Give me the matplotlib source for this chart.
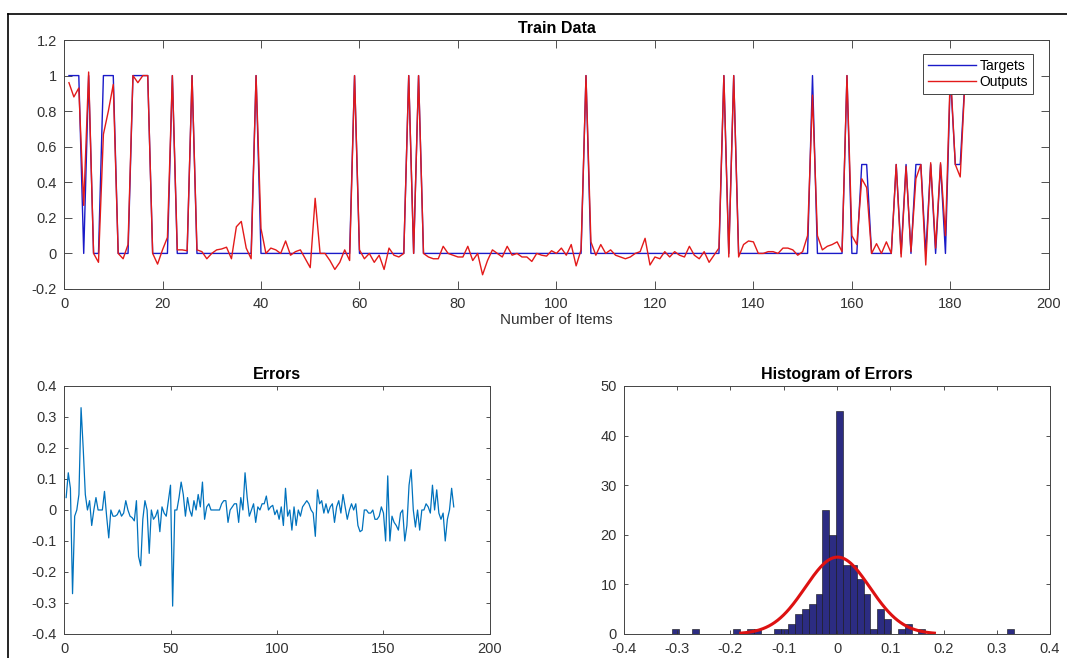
import numpy as np
import matplotlib
matplotlib.use("Agg")
import matplotlib.pyplot as plt
from matplotlib.lines import Line2D

plt.rcParams['font.family'] = ['Liberation Sans', 'DejaVu Sans']
plt.rcParams['font.size'] = 10

# --- data (183 training items) ---
targets = [
    1, 1, 1, 0, 1, 0, 0, 1, 1, 1,
    0, 0, 0, 1, 1, 1, 1, 0, 0, 0,
    0, 1, 0, 0, 0, 1, 0, 0, 0, 0,
    0, 0, 0, 0, 0, 0, 0, 0, 1, 0,
    0, 0, 0, 0, 0, 0, 0, 0, 0, 0,
    0, 0, 0, 0, 0, 0, 0, 0, 1, 0,
    0, 0, 0, 0, 0, 0, 0, 0, 0, 1,
    0, 1, 0, 0, 0, 0, 0, 0, 0, 0,
    0, 0, 0, 0, 0, 0, 0, 0, 0, 0,
    0, 0, 0, 0, 0, 0, 0, 0, 0, 0,
    0, 0, 0, 0, 0, 1, 0, 0, 0, 0,
    0, 0, 0, 0, 0, 0, 0, 0, 0, 0,
    0, 0, 0, 0, 0, 0, 0, 0, 0, 0,
    0, 0, 0, 1, 0, 1, 0, 0, 0, 0,
    0, 0, 0, 0, 0, 0, 0, 0, 0, 0,
    0, 1, 0, 0, 0, 0, 0, 0, 1, 0,
    0, 0.5, 0.5, 0, 0, 0, 0, 0, 0.5, 0,
    0.5, 0, 0.5, 0.5, 0, 0.5, 0, 0.5, 0, 1,
    0.5, 0.5, 1,
]
outputs = [
    0.96, 0.88, 0.93, 0.27, 1.02, 0.0, -0.05, 0.67, 0.80, 0.95,
    0.0, -0.03, 0.05, 1.0, 0.96, 1.0, 1.0, 0.0, -0.06, 0.02,
    0.09, 1.0, 0.02, 0.02, 0.015, 1.0, 0.02, 0.01, -0.03, 0.0,
    0.02, 0.025, 0.035, -0.03, 0.15, 0.18, 0.03, -0.03, 1.0, 0.14,
    0.0, 0.03, 0.02, 0.0, 0.07, -0.01, 0.01, 0.02, -0.03, -0.08,
    0.31, 0.0, 0.0, -0.04, -0.09, -0.05, 0.02, -0.04, 1.0, 0.02,
    -0.03, 0.0, -0.05, -0.01, -0.09, 0.03, -0.01, -0.02, 0.0, 1.0,
    0.0, 1.0, 0.0, -0.02, -0.03, -0.03, 0.04, 0.0, -0.01, -0.02,
    -0.02, 0.04, -0.04, 0.0, -0.12, -0.04, 0.02, 0.0, -0.02, 0.04,
    -0.01, 0.0, -0.02, -0.02, -0.045, 0.0, -0.01, -0.015, 0.015, 0.0,
    0.03, -0.01, 0.05, -0.07, 0.02, 1.0, 0.065, -0.01, 0.05, 0.0,
    0.02, -0.01, -0.02, -0.03, -0.02, 0.0, 0.01, 0.085, -0.065, -0.02,
    -0.03, 0.01, -0.02, 0.01, -0.01, -0.02, 0.04, -0.01, -0.03, 0.01,
    -0.05, -0.01, 0.03, 1.0, -0.02, 1.0, -0.02, 0.05, 0.07, 0.065,
    0.0, 0.0, 0.01, 0.01, 0.0, 0.03, 0.03, 0.02, -0.01, 0.01,
    0.10, 0.89, 0.10, 0.02, 0.04, 0.05, 0.065, 0.01, 1.0, 0.10,
    0.05, 0.42, 0.37, 0.0, 0.055, 0.0, 0.065, 0.0, 0.50, -0.02,
    0.49, 0.01, 0.42, 0.50, -0.065, 0.51, 0.03, 0.51, 0.10, 1.03,
    0.50, 0.43, 0.99,
]

# histogram of errors: 50 bins over the error range
hist_min, hist_max = -0.3105, 0.333
hist_counts = [
    1, 0, 0, 1, 0, 0, 0, 0, 0, 1,
    0, 1, 1, 0, 0, 1, 1, 2, 4, 5,
    6, 8, 25, 20, 45, 14, 14, 11, 8, 1,
    5, 3, 0, 1, 2, 0, 1, 0, 0, 0,
    0, 0, 0, 0, 0, 0, 0, 0, 0, 1,
]

items = np.arange(1, len(targets) + 1)
targets = np.array(targets, dtype=float)
outputs = np.array(outputs, dtype=float)
errors = targets - outputs

TXT = '#333333'
NAVY = '#2c2c82'


def style_axes(ax, ticklen):
    ax.tick_params(direction='in', top=True, right=True, length=ticklen,
                   width=0.6, colors=TXT, labelsize=10.5)
    ax.tick_params(axis='x', pad=6)
    ax.tick_params(axis='y', pad=5)
    for sp in ax.spines.values():
        sp.set_color('#444444')
        sp.set_linewidth(0.7)


fig = plt.figure(figsize=(10.67, 6.58), dpi=100)

# --- Train Data ---
ax1 = fig.add_axes([0.060, 0.5608, 0.923, 0.3784])
ax1.plot(items, targets, color='#1a1ac8', lw=1.0, label='Targets')
ax1.plot(items, outputs, color='#e31a1a', lw=1.0, label='Outputs')
ax1.set_xlim(0, 200)
ax1.set_ylim(-0.2, 1.2)
ax1.set_xticks(np.arange(0, 201, 20))
ax1.set_yticks(np.arange(-0.2, 1.21, 0.2))
ax1.set_yticklabels(['-0.2', '0', '0.2', '0.4', '0.6', '0.8', '1', '1.2'])
ax1.set_title('Train Data', fontweight='bold', fontsize=11.5, pad=5)
ax1.set_xlabel('Number of Items', fontsize=11, color=TXT, labelpad=1)
style_axes(ax1, 6)
leg = ax1.legend(loc='upper right', bbox_to_anchor=(0.984, 0.945), fontsize=10,
                 fancybox=False, framealpha=1, edgecolor='#444444',
                 handlelength=3.4, handletextpad=0.3, borderpad=0.35,
                 labelspacing=0.2, borderaxespad=0)
leg.get_frame().set_linewidth(0.7)

# --- Errors ---
ax2 = fig.add_axes([0.060, 0.0365, 0.3992, 0.3769])
ax2.plot(items, errors, color='#0072BD', lw=0.9)
ax2.set_xlim(0, 200)
ax2.set_ylim(-0.4, 0.4)
ax2.set_xticks(np.arange(0, 201, 50))
ax2.set_yticks(np.arange(-0.4, 0.41, 0.1))
ax2.set_yticklabels(['-0.4', '-0.3', '-0.2', '-0.1', '0', '0.1', '0.2', '0.3', '0.4'])
ax2.set_title('Errors', fontweight='bold', fontsize=11.5, pad=5)
style_axes(ax2, 3)

# --- Histogram of Errors ---
ax3 = fig.add_axes([0.5848, 0.0365, 0.3993, 0.3769])
edges = np.linspace(hist_min, hist_max, len(hist_counts) + 1)
centers = 0.5 * (edges[:-1] + edges[1:])
bw = edges[1] - edges[0]
counts = np.array(hist_counts, dtype=float)
ax3.bar(centers, counts, width=bw, color=NAVY, edgecolor='#111111', linewidth=0.4)

n = counts.sum()
mu = (centers * counts).sum() / n
sigma = np.sqrt(((centers - mu) ** 2 * counts).sum() / (n - 1))
xf = np.linspace(mu - 3 * sigma, mu + 3 * sigma, 200)
yf = n * bw * np.exp(-0.5 * ((xf - mu) / sigma) ** 2) / (sigma * np.sqrt(2 * np.pi))
ax3.plot(xf, yf, color='#dd1111', lw=2.2)

ax3.set_xlim(-0.4, 0.4)
ax3.set_ylim(0, 50)
ax3.set_xticks(np.arange(-0.4, 0.41, 0.1))
ax3.set_xticklabels(['-0.4', '-0.3', '-0.2', '-0.1', '0', '0.1', '0.2', '0.3', '0.4'])
ax3.set_yticks(np.arange(0, 51, 10))
ax3.set_title('Histogram of Errors', fontweight='bold', fontsize=11.5, pad=5)
style_axes(ax3, 3)

# window frame (top and left edges of the screenshot)
fig.add_artist(Line2D([0.0075, 1.0], [0.9787, 0.9787], color='black', lw=1.2,
                      transform=fig.transFigure))
fig.add_artist(Line2D([0.0075, 0.0075], [0.0, 0.9787], color='black', lw=1.2,
                      transform=fig.transFigure))

fig.savefig('out.png', dpi=100)
